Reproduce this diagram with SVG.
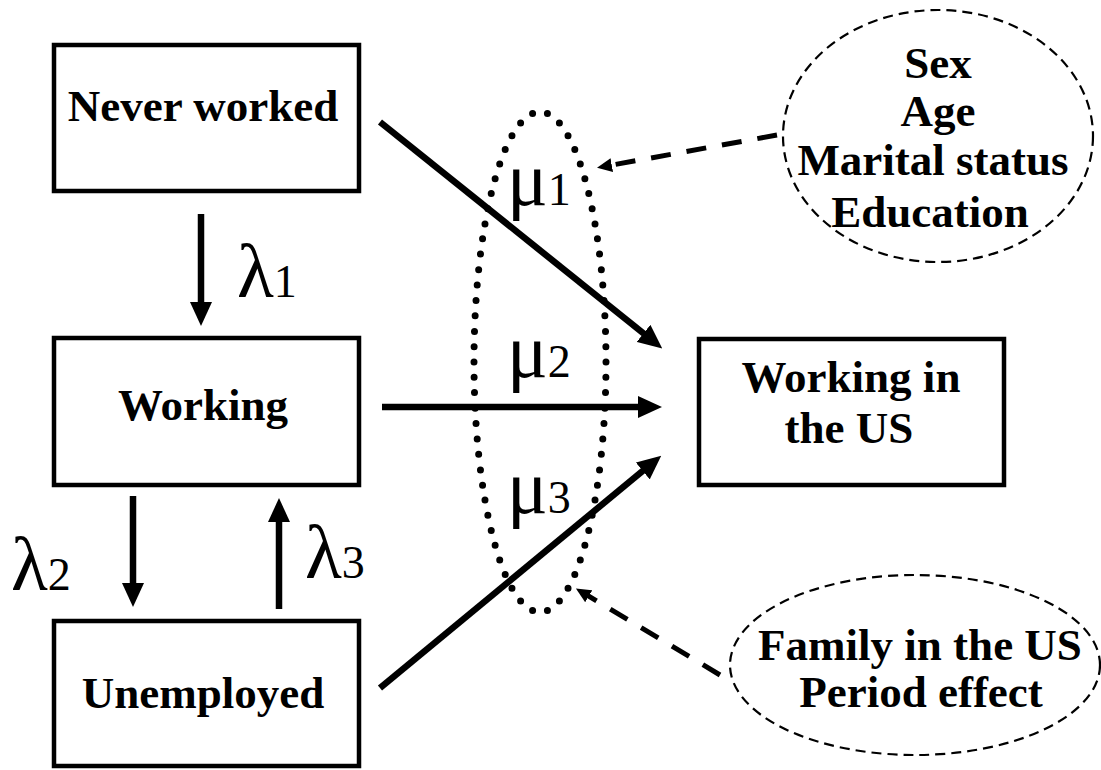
<svg xmlns="http://www.w3.org/2000/svg" width="1101" height="770" viewBox="0 0 1101 770">
<style>
.box{fill:#fff;stroke:#000;stroke-width:4.5}
.lbl{font-family:"Liberation Serif","Times New Roman",serif;font-weight:bold;font-size:45px;fill:#000;text-anchor:middle}
.greek{font-family:"Liberation Serif","Times New Roman",serif;fill:#000}
.sym{font-size:76px}
.sub{font-size:46px}
.arr{stroke:#000;stroke-width:6.5;fill:none}
.dash{stroke:#000;stroke-width:5;fill:none;stroke-dasharray:20 16}
.cov{fill:none;stroke:#000;stroke-width:2.2;stroke-dasharray:10 6}
</style>
<defs>
<marker id="ah" viewBox="0 0 24 22" refX="1" refY="11" markerWidth="24" markerHeight="22" markerUnits="userSpaceOnUse" orient="auto">
<path d="M0,0 L24,11 L0,22 z" fill="#000"/>
</marker>
<marker id="dh" viewBox="0 0 15 14" refX="1" refY="7" markerWidth="15" markerHeight="14" markerUnits="userSpaceOnUse" orient="auto">
<path d="M0,0 L15,7 L0,14 z" fill="#000"/>
</marker>
</defs>
<rect width="1101" height="770" fill="#fff"/>

<g id="connectors">
<line class="arr" x1="201" y1="214" x2="201" y2="303" marker-end="url(#ah)"/>
<line class="arr" x1="133" y1="496" x2="133" y2="584" marker-end="url(#ah)"/>
<line class="arr" x1="279" y1="609" x2="279" y2="521" marker-end="url(#ah)"/>
<line class="arr" x1="380" y1="122" x2="644.3" y2="334" marker-end="url(#ah)"/>
<line class="arr" x1="382" y1="407" x2="639" y2="407" marker-end="url(#ah)"/>
<line class="arr" x1="380" y1="688" x2="643.5" y2="470.3" marker-end="url(#ah)"/>
<line class="dash" x1="777" y1="135" x2="610.8" y2="165.3" marker-end="url(#dh)"/>
<line class="dash" x1="720" y1="675" x2="587.9" y2="595.7" marker-end="url(#dh)"/>
</g>

<g id="mu-group">
<ellipse cx="540" cy="362" rx="66" ry="250" fill="none" stroke="#000" stroke-width="7" stroke-linecap="round" stroke-dasharray="0 1" pathLength="70"/>
</g>

<g id="never-worked">
<rect class="box" x="54" y="45" width="305" height="146"/>
<text class="lbl" x="203" y="121">Never worked</text>
</g>
<g id="working">
<rect class="box" x="54" y="338" width="305" height="147"/>
<text class="lbl" x="203" y="420">Working</text>
</g>
<g id="unemployed">
<rect class="box" x="54" y="621" width="305" height="145"/>
<text class="lbl" x="203" y="708">Unemployed</text>
</g>
<g id="working-us">
<rect class="box" x="699" y="339" width="305" height="146"/>
<text class="lbl" x="851" y="392">Working in</text>
<text class="lbl" x="849" y="443">the US</text>
</g>

<g id="covariates-1">
<ellipse class="cov" cx="938" cy="136" rx="155" ry="126"/>
<text class="lbl" x="938" y="78">Sex</text>
<text class="lbl" x="938" y="126">Age</text>
<text class="lbl" x="933" y="175">Marital status</text>
<text class="lbl" x="930" y="227">Education</text>
</g>
<g id="covariates-2">
<ellipse class="cov" cx="915" cy="665" rx="185" ry="90"/>
<text class="lbl" x="920" y="660">Family in the US</text>
<text class="lbl" x="921" y="707">Period effect</text>
</g>

<g id="labels">
<text class="greek" x="237" y="297"><tspan class="sym">λ</tspan><tspan class="sub">1</tspan></text>
<text class="greek" x="11" y="590"><tspan class="sym">λ</tspan><tspan class="sub">2</tspan></text>
<text class="greek" x="305" y="578"><tspan class="sym">λ</tspan><tspan class="sub">3</tspan></text>
<text class="greek" x="507" y="205"><tspan class="sym">μ</tspan><tspan class="sub">1</tspan></text>
<text class="greek" x="507" y="377"><tspan class="sym">μ</tspan><tspan class="sub">2</tspan></text>
<text class="greek" x="507" y="513"><tspan class="sym">μ</tspan><tspan class="sub">3</tspan></text>
</g>
</svg>
